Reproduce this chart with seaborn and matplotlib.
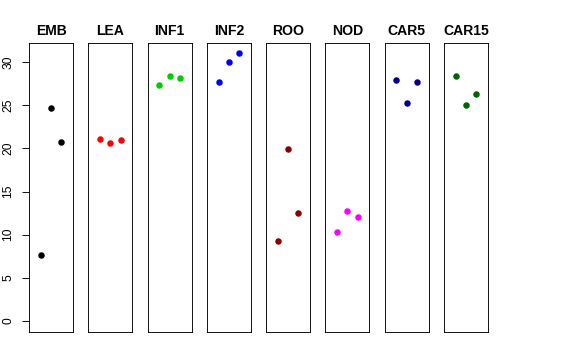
import pandas as pd
import matplotlib
matplotlib.use("Agg")
import matplotlib.pyplot as plt
import seaborn as sns

# Valeurs
tissues = ["EMB", "LEA", "INF1", "INF2", "ROO", "NOD", "CAR5", "CAR15"]
colors = ["#000000", "#FF0000", "#00CD00", "#0000FF", "#8B0000", "#FF00FF", "#00008B", "#006400"]
rep_pos = [1, 2, 3]
emb = [7.6, 24.7, 20.7]
lea = [21.1, 20.6, 20.95]
inf1 = [27.3, 28.4, 28.1]
inf2 = [27.65, 30.0, 31.0]
roo = [9.3, 19.9, 12.5]
nod = [10.3, 12.8, 12.0]
car5 = [27.95, 25.2, 27.7]
car15 = [28.4, 25.05, 26.3]
y_ticks = [0, 5, 10, 15, 20, 25, 30]

values = [emb, lea, inf1, inf2, roo, nod, car5, car15]
rows = []
for t, v in zip(tissues, values):
    for x, y in zip(rep_pos, v):
        rows.append({"tissue": t, "x": x, "y": y})
df = pd.DataFrame(rows)

sns.set_theme(style="white")
plt.rcParams["font.family"] = ["Liberation Sans", "DejaVu Sans"]
plt.rcParams["text.color"] = "black"

g = sns.FacetGrid(df, col="tissue", col_order=tissues, hue="tissue",
                  hue_order=tissues, palette=colors, sharey=True, sharex=True)
g.map(sns.scatterplot, "x", "y", s=42, linewidth=0)
g.figure.set_size_inches(8, 5)
g.figure.set_dpi(72)
g.figure.subplots_adjust(left=29 / 576, right=488 / 576, bottom=28 / 360,
                         top=317 / 360, wspace=15.1 / 44)

for ax, t in zip(g.axes.flat, tissues):
    ax.set_xlim(-0.16, 4.16)
    ax.set_ylim(-1.27, 32.2)
    ax.set_xticks([])
    ax.set_xlabel("")
    ax.set_ylabel("")
    ax.set_title(t, fontsize=14, fontweight="bold", pad=8, color="black")
    for s in ax.spines.values():
        s.set_visible(True)
        s.set_color("black")
        s.set_linewidth(0.9)
    ax.tick_params(axis="y", left=False, labelleft=False)

ax0 = g.axes.flat[0]
ax0.set_yticks(y_ticks)
ax0.set_yticklabels([str(v) for v in y_ticks])
ax0.tick_params(axis="y", left=True, labelleft=True, length=7, width=0.9,
                color="black", labelsize=12, labelcolor="black", pad=8)
plt.setp(ax0.get_yticklabels(), rotation=90, va="center")

g.figure.savefig("out.png", dpi=72)
